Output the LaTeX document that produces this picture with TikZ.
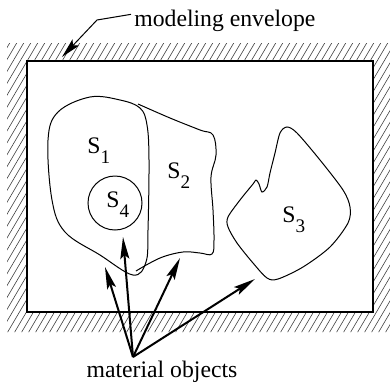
\documentclass[tikz,border=0pt]{standalone}
\usepackage{fontspec}
\setmainfont{Liberation Serif}
\usetikzlibrary{arrows.meta}
\newcommand\sidx[1]{\raisebox{-5pt}{\fontsize{9.6}{10}\selectfont #1}}

\begin{document}
\begin{tikzpicture}
    [x=0.5pt, y=-0.5pt,
    every node/.style={font=\fontsize{11.85}{14}\selectfont, inner sep=0pt},
    hatch/.style={black!75, line width=0.3pt},
    envelope/.style={black, line width=1pt},
    region/.style={black, line width=0.5pt},
    pointer/.style={black, line width=1pt, -{Stealth[length=11pt, width=4.5pt, inset=2pt]}},
    leader/.style={black, line width=0.5pt, -{Stealth[length=10pt, width=4.5pt, inset=2pt]}}]
    \useasboundingbox (0,0) rectangle (390,386);

    % hatched wall round the envelope
    \begin{scope}[even odd rule]
        \clip (7,43) rectangle (392,332) (27,61) rectangle (373,312);
        \foreach \i in {-340,-333,...,400}
        {
            \draw[hatch] (\i,340) -- ++(200,-340);
        }
    \end{scope}
    \draw[envelope] (27,61) rectangle (373,312);

    % material objects
    \draw[region] plot[smooth cycle, tension=0.6] coordinates {(90,97) (120,100) (140,108) (147,125) (149,160) (148,230) (146,262) (133,275) (100,255) (65,232) (52,200) (48,140) (58,112)};
    \draw[region] plot[smooth, tension=0.6] coordinates {(138,104) (170,118) (200,130) (213,135) (216,155) (211,177) (213,210) (214,240) (212,254) (200,253) (183,252) (160,258) (136,271)};
    \draw[region] plot[smooth cycle, tension=0.5] coordinates {(287,127) (297,133) (320,160) (343,190) (350,207) (348,223) (330,247) (303,267) (278,279) (267,278) (253,263) (237,243) (228,227) (228,217) (240,200) (253,184) (256,180) (259,184) (262,192) (267,187) (270,173) (275,153) (280,133)};
    \coordinate[] (s4c) at (115,203);
    \draw[region] (s4c) circle (27);

    \node[anchor=base west] (s1lab) at (87,153) {S\sidx{1}};
    \node[anchor=base west] (s2lab) at (167,178) {S\sidx{2}};
    \node[anchor=base west] (s3lab) at (282,222) {S\sidx{3}};
    \node[anchor=base west] (s4lab) at (106,207) {S\sidx{4}};

    % labels and pointers
    \node[anchor=base west] (env) at (134,26) {modeling envelope};
    \coordinate[] (envbend) at (97,20);
    \coordinate[] (envtip) at (62,57);
    \draw[leader] (env.west) ++(-3,-6) -- (envbend) -- (envtip);

    \node[anchor=base] (mat) at (162,377) {material objects};
    \coordinate[] (hub) at (133,357);
    \coordinate[] (t1) at (105,267);
    \coordinate[] (t2) at (123,237);
    \coordinate[] (t3) at (180,258);
    \coordinate[] (t4) at (255,279);
    \foreach \t in {t1,t2,t3,t4}
    {
        \draw[pointer] (hub) -- (\t);
    }
\end{tikzpicture}
\end{document}
